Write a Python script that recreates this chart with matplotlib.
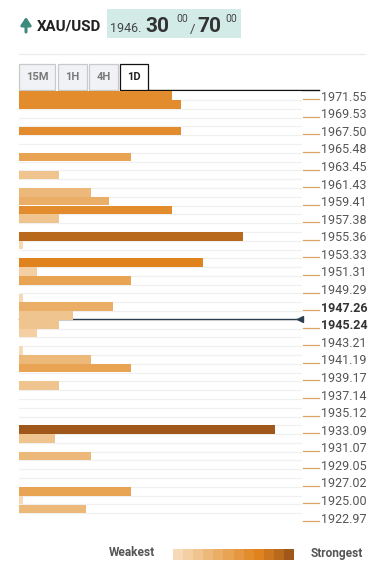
import numpy as np
import matplotlib
matplotlib.use("Agg")
import matplotlib.pyplot as plt
from matplotlib.colors import ListedColormap
from matplotlib.patches import Rectangle
import matplotlib.transforms as mtransforms

plt.rcParams['font.family'] = ['Roboto', 'DejaVu Sans']

# ---------------- data ----------------
tick_labels = ["1971.55", "1969.53", "1967.50", "1965.48", "1963.45", "1961.43",
               "1959.41", "1957.38", "1955.36", "1953.33", "1951.31", "1949.29",
               "1947.26", "1945.24", "1943.21", "1941.19", "1939.17", "1937.14",
               "1935.12", "1933.09", "1931.07", "1929.05", "1927.02", "1925.00",
               "1922.97"]
bold_labels = ["1947.26", "1945.24"]

bar_levels = [1971.55, 1970.54, 1967.50, 1964.47, 1962.44, 1960.42, 1959.41,
              1958.39, 1957.38, 1955.36, 1954.34, 1952.32, 1951.31, 1950.30,
              1948.27, 1947.26, 1946.25, 1945.24, 1944.23, 1942.20, 1941.19,
              1940.18, 1938.15, 1933.09, 1932.08, 1930.06, 1926.01, 1925.00,
              1923.98]
bar_strength = [153, 162, 162, 112, 40, 72, 90,
                153, 40, 224, 4, 184, 18, 112,
                4, 94, 54, 40, 18, 4, 72,
                112, 40, 256, 36, 72, 112, 4,
                67]
current_price = 1945.82

gradient_colors = ["#f6d9b6", "#f3cfa3", "#f0c48e", "#edb97a", "#eaae67", "#e8a353",
                   "#e59841", "#e38c2e", "#e0821e", "#cc7720", "#b8691c", "#a0581a"]
cmap = ListedColormap(gradient_colors)

# ---------------- figure ----------------
W, H = 378, 575
fig = plt.figure(figsize=(W / 100, H / 100), dpi=100)
fig.patch.set_facecolor("white")

# overlay axes in pixel coordinates
ax0 = fig.add_axes([0, 0, 1, 1])
ax0.set_xlim(0, W)
ax0.set_ylim(H, 0)
ax0.axis("off")

# header
ax0.annotate("", xy=(26, 17), xytext=(26, 32),
             arrowprops=dict(arrowstyle="-|>,head_length=0.45,head_width=0.3",
                             color="#3d8b7c", lw=2.2, shrinkA=0, shrinkB=0))
ax0.text(36.5, 30.5, "XAU/USD", fontweight="bold", fontsize=10.8, color="#222222",
         ha="left", va="baseline")
ax0.add_patch(Rectangle((107, 9), 134, 29, facecolor="#d2ebe7", edgecolor="none"))
ax0.text(110, 31.5, "1946.", fontsize=9, color="#444444", ha="left", va="baseline")
ax0.text(145.5, 31.8, "30", fontsize=15, fontweight="bold", color="#333333",
         ha="left", va="baseline")
ax0.text(176, 22.5, "00", fontsize=7.5, color="#444444", ha="left", va="baseline")
ax0.text(189.5, 33, "/", fontsize=9.5, color="#444444", ha="left", va="baseline")
ax0.text(197.5, 31.8, "70", fontsize=15, fontweight="bold", color="#333333",
         ha="left", va="baseline")
ax0.text(225, 22.5, "00", fontsize=7.5, color="#444444", ha="left", va="baseline")

# separator
ax0.plot([19, 365], [54, 54], color="#ececec", lw=1)

# tabs
tabs = [("15M", 19, 55), ("1H", 58, 87), ("4H", 89, 118), ("1D", 120, 148)]
for name, x0, x1 in tabs:
    active = name == "1D"
    ax0.add_patch(Rectangle((x0, 64), x1 - x0, 26,
                            facecolor="white" if active else "#f1f2f5",
                            edgecolor="#111111" if active else "#c9c9c9", lw=0.9))
    ax0.text((x0 + x1) / 2, 77.5, name, fontsize=8, fontweight="bold",
             color="#222222" if active else "#7a7a7a", ha="center", va="center")
ax0.plot([148, 319], [90, 90], color="#111111", lw=1)

# legend
ax0.text(155, 553, "Weakest", fontsize=8.6, fontweight="bold", color="#555555",
         ha="right", va="center")
ax0.text(311, 553, "Strongest", fontsize=8.6, fontweight="bold", color="#555555",
         ha="left", va="center")
gx0, gx1 = 173, 294
gw = (gx1 - gx0) / len(gradient_colors)
for i in range(len(gradient_colors)):
    ax0.add_patch(Rectangle((gx0 + i * gw, 549), gw + 0.3, 11,
                            facecolor=cmap(i), edgecolor="none"))

# ---------------- bar axes ----------------
top_lbl = float(tick_labels[0])
bot_lbl = float(tick_labels[-1])
nrows = 2 * (len(tick_labels) - 1) + 1
step = (top_lbl - bot_lbl) / (nrows - 1)

px_left, px_right = 19, 302
px_top, px_bot = 91.3, 522.0
ax = fig.add_axes([px_left / W, 1 - px_bot / H, (px_right - px_left) / W,
                   (px_bot - px_top) / H])
ax.set_facecolor("none")
ax.set_xlim(0, 283)
ax.set_ylim(bot_lbl - step / 2, top_lbl + step / 2)

# row gridlines
for k in range(nrows + 1):
    ax.axhline(top_lbl + step / 2 - k * step, color="#f0f0f0", lw=0.9, zorder=0)

# current price line
ax.plot([0, 281], [current_price, current_price], color="#2c3e50", lw=1, zorder=1,
        clip_on=False)
ax.plot([281], [current_price], marker="<", markersize=4.5, color="#2c3e50",
        zorder=4, clip_on=False)

# bars
vmax = max(bar_strength)
idx = np.rint(np.array(bar_strength) / vmax * (len(gradient_colors) - 1)).astype(int)
colors = [cmap(i) for i in idx]
ax.barh(bar_levels, bar_strength, height=step * 0.98, color=colors, zorder=2,
        linewidth=0)

# ticks on right
ax.yaxis.tick_right()
tick_vals = [float(t) for t in tick_labels]
ax.set_yticks(tick_vals)
ax.set_yticklabels(tick_labels)
ax.tick_params(axis="y", length=0, pad=13.5, labelsize=9, labelcolor="#555555")
for lbl in ax.get_yticklabels():
    if lbl.get_text() in bold_labels:
        lbl.set_fontweight("bold")
        lbl.set_color("#333333")
ax.set_xticks([])
for s in ax.spines.values():
    s.set_visible(False)

# short tick dashes below each label
trans = mtransforms.blended_transform_factory(ax.transAxes, ax.transData)
for v in tick_vals:
    yy = v - 0.4 * step
    ax.plot([1.0035, 1.06], [yy, yy], color="#d9a466", lw=0.9, transform=trans,
            clip_on=False)

fig.savefig("out.png", dpi=100, facecolor="white")
